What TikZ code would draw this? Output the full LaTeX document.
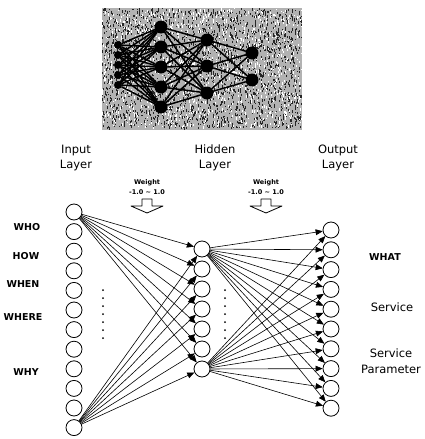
\documentclass[tikz,border=0pt]{standalone}
\usepackage{fontspec}
\setmainfont{DejaVu Sans}
\usepackage{tikz}
\usetikzlibrary{arrows}

\begin{document}
\begin{tikzpicture}[line cap=round,line join=round,>=triangle 45,x=1pt,y=-1pt]
\useasboundingbox (0,0) rectangle (425,439);
\tikzstyle{neuron}=[circle,draw,line width=0.8pt,minimum size=16pt,inner sep=0pt]
\tikzstyle{link}=[->,line width=0.6pt]
\tikzstyle{blob}=[circle,fill=black,inner sep=0pt,minimum size=13pt]
\tikzstyle{layertext}=[align=center,font=\fontsize{11.5}{15}\selectfont]
\tikzstyle{wtext}=[align=center,font=\fontsize{6.5}{10}\selectfont\bfseries]
\tikzstyle{qtext}=[font=\fontsize{9.5}{12}\selectfont\bfseries]
\tikzstyle{atext}=[align=center,font=\fontsize{11.5}{16}\selectfont]

% scanned picture of the small net
\fill[black!30] (102,8) rectangle (302,130);
\pgfmathsetseed{17}
\foreach \i in {1,...,2400}{
  \pgfmathsetmacro{\px}{102+199*rnd}
  \pgfmathsetmacro{\py}{8+119*rnd}
  \pgfmathsetmacro{\ph}{0.8+2.2*rnd}
  \fill[black!85] (\px,\py) rectangle ++(1,\ph);
}
\foreach \i in {1,...,1100}{
  \pgfmathsetmacro{\px}{102+199*rnd}
  \pgfmathsetmacro{\py}{8+119*rnd}
  \pgfmathsetmacro{\ph}{0.8+2.2*rnd}
  \fill[white] (\px,\py) rectangle ++(1,\ph);
}
\foreach \y [count=\k] in {45,55,65,75,85} \node[blob,minimum size=8pt] (s\k) at (118,\y) {};
\foreach \y [count=\k] in {27,47,67,87,107} \node[blob] (a\k) at (161,\y) {};
\foreach \y [count=\k] in {40,66,93} \node[blob] (b\k) at (207,\y) {};
\foreach \y [count=\k] in {53,80} \node[blob] (c\k) at (252,\y) {};
\foreach \i in {1,...,5} \foreach \j in {1,...,5} \draw[line width=1.5pt] (s\i) -- (a\j);
\foreach \i in {1,...,5} \foreach \j in {1,...,3} \draw[line width=1.5pt] (a\i) -- (b\j);
\foreach \i in {1,...,3} \foreach \j in {1,2} \draw[line width=1.5pt] (b\i) -- (c\j);

% layers
\foreach \k in {1,...,12} \node[neuron] (in\k) at (74,{212+19.6*(\k-1)}) {};
\foreach \k in {1,...,7} \node[neuron] (hid\k) at (202,{249+20*(\k-1)}) {};
\foreach \k in {1,...,10} \node[neuron] (out\k) at (331,{230+19.8*(\k-1)}) {};

\foreach \j in {1,...,7} {
  \draw[link] (in1) -- (hid\j);
  \draw[link] (in12) -- (hid\j);
}
\foreach \j in {1,...,10} {
  \draw[link] (hid1) -- (out\j);
  \draw[link] (hid7) -- (out\j);
}

% dots
\foreach \y in {290,298,...,340} \fill (103,\y) circle (1);
\foreach \y in {290,298,...,340} \fill (225,\y) circle (1);

% titles
\node[layertext] (tin) at (76,158) {Input\\Layer};
\node[layertext] (thid) at (215,158) {Hidden\\Layer};
\node[layertext] (tout) at (338,158) {Output\\Layer};

% weights
\node[wtext] (w1) at (147,187) {Weight\\-1.0 \textasciitilde\ 1.0};
\node[wtext] (w2) at (266,187) {Weight\\-1.0 \textasciitilde\ 1.0};
\foreach \c in {147,266}
  \draw[line width=0.8pt] ({\c-5},199) -- ({\c+5},199) -- ({\c+5},206) -- ({\c+16},206)
    -- (\c,213) -- ({\c-16},206) -- ({\c-5},206) -- cycle;

% inputs
\node[qtext] (who) at (27,227) {WHO};
\node[qtext] (how) at (26,256) {HOW};
\node[qtext] (when) at (23,284) {WHEN};
\node[qtext] (where) at (23,317) {WHERE};
\node[qtext] (why) at (26,372) {WHY};

% outputs
\node[qtext] (what) at (385,257) {WHAT};
\node[atext] (serv) at (392,307) {Service};
\node[atext] (par) at (391,361) {Service\\Parameter};
\end{tikzpicture}
\end{document}
